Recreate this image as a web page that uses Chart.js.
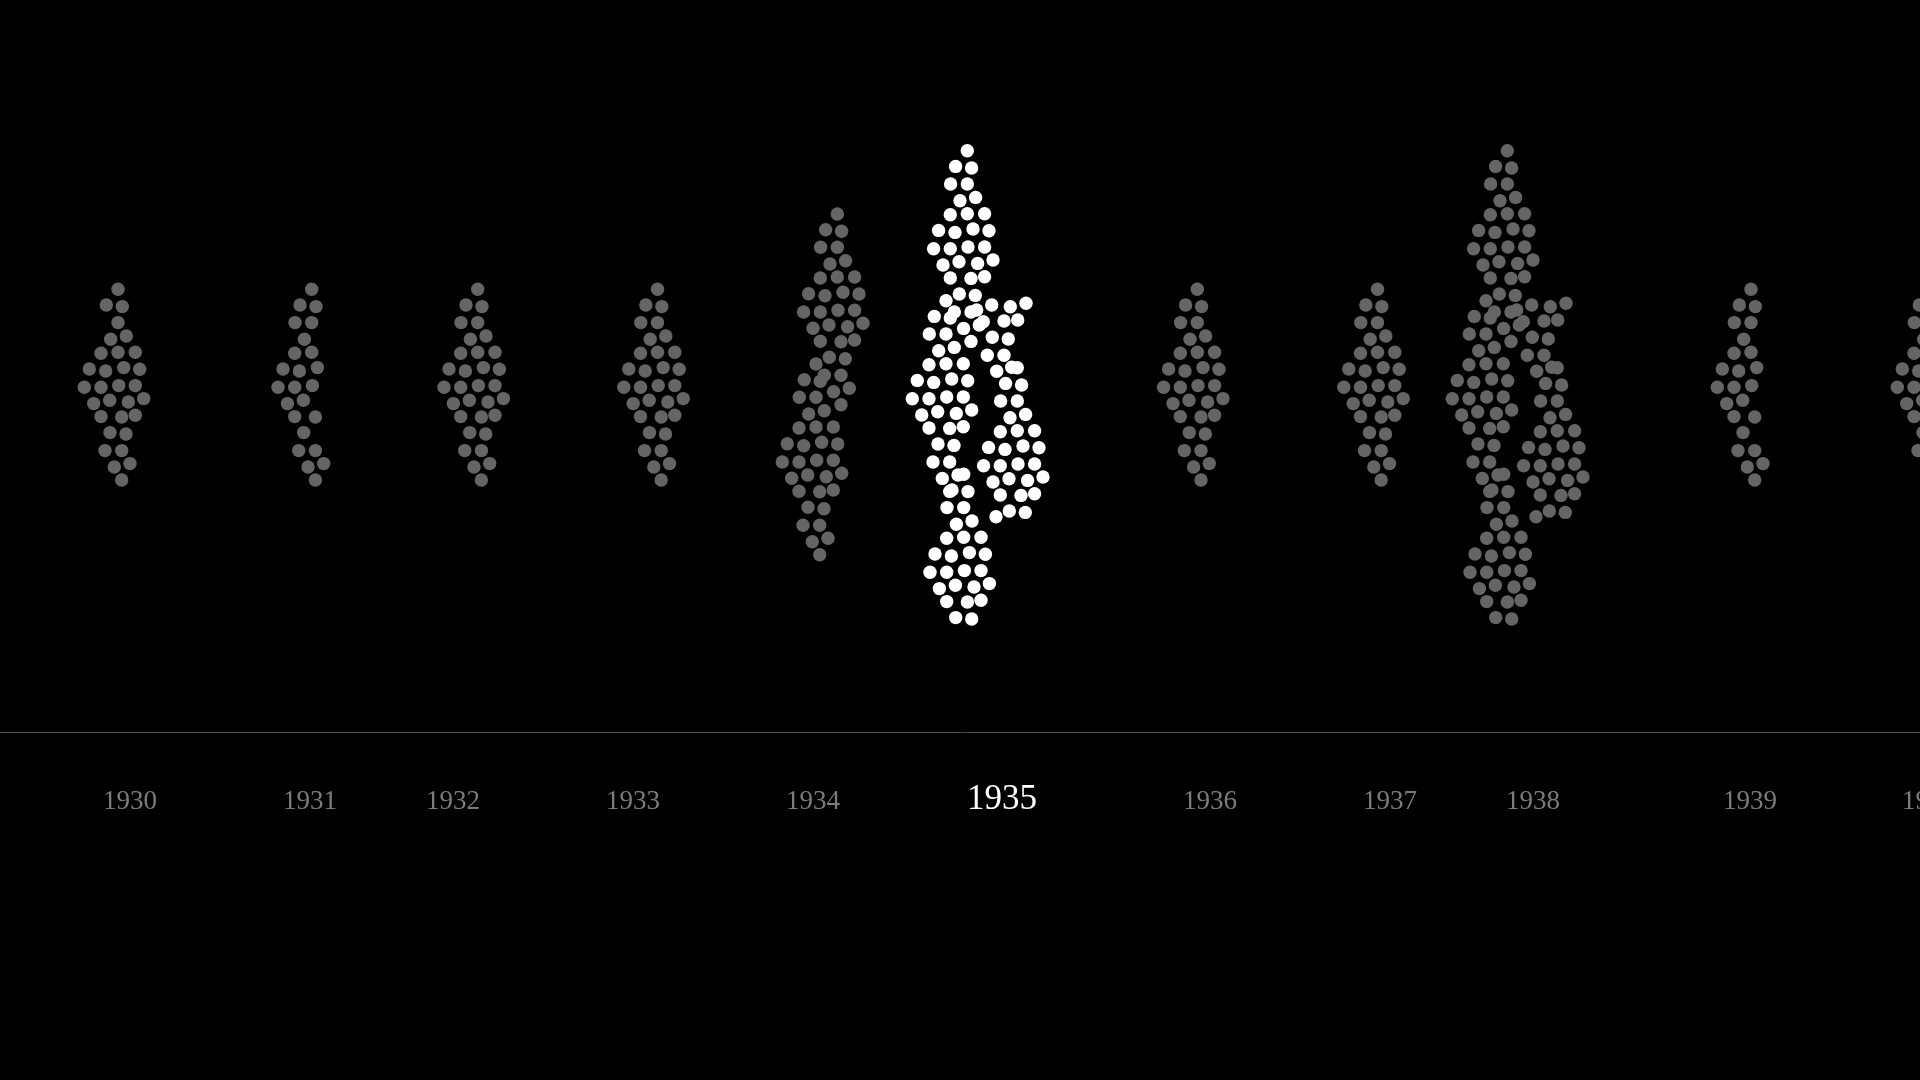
<!DOCTYPE html>
<html>
<head>
<meta charset="utf-8">
<script src="https://cdn.jsdelivr.net/npm/chart.js@4/dist/chart.umd.min.js"></script>
<style>
html,body{margin:0;padding:0;background:#000;overflow:hidden}
#wrap{width:1920px;height:1080px;position:relative}
</style>
</head>
<body>
<div id="wrap"><canvas id="c" width="1920" height="1080"></canvas></div>
<script>
// ---- data ----
const YEARS = ['1930','1931','1932','1933','1934','1935','1936','1937','1938','1939','1940'];
const LABEL_X = [130, 310, 453, 633, 813, 1002, 1210, 1390, 1533, 1750, 1929];
const HIGHLIGHT_YEAR = '1935';

// one swarm "diamond": offsets of each dot from its top dot
const SHAPE_DX = [0,-11.7,4.3,-16.7,0,-7.3,8.3,-17,0,17.3,-28.7,-12.3,5.7,21.7,-33.7,-17,0.7,17.3,-24.3,-8.3,10.3,25.7,-17,3.7,17.3,-8,8,-13,3.7,-3.7,12,3.7];
const SHAPE_DY = [0,15.7,17.3,33.3,33.3,50,46.7,64,63,63,79.7,81.7,78.3,80,98,98,96.3,96.3,114.3,111,112.7,109.3,127.3,127.7,126,143.3,144.7,161.3,161.3,177.7,174.3,190.7];

const DIAMOND_YEAR = ['1930','1931','1932','1933','1934','1934','1935','1935','1935','1935','1936','1937','1938','1938','1938','1938','1939','1940'];
const DIAMOND_X = [118,311.7,477.7,657.5,837.3,816,967.3,946,1017.3,963.7,1197.3,1377.5,1507.3,1486,1557.3,1503.7,1751,1931];
const DIAMOND_Y = [289.3,289.3,289.3,289.3,214,364,150.7,300.7,367.7,474.3,289.3,289.3,150.7,300.7,367.7,474.3,289.3,289.3];
const DIAMOND_DROP = [
  [4],
  [7,10,14,18,21,22,25,27],
  [],[],[],[],[],[],
  [28,29,30,31,32],
  [28,29,30,31,32],
  [],[],[],[],
  [28,29,30,31,32],
  [28,29,30,31,32],
  [7,10,14,18,21,22,25,27],
  []
];

// loose dots that belong to no full diamond
const EXTRA_YEAR = ['1935','1935','1935','1935','1935','1935','1935','1935','1935','1935','1935','1935','1935','1935',
                    '1938','1938','1938','1938','1938','1938','1938','1938','1938','1938','1938','1938','1938','1938'];
const EXTRA_X = [991.7,1010.3,1026,1004,1017.7,992.3,1008.3,987.3,1004,996.7,1011.7,976.7,983.3,996,
                 1531.7,1550.3,1566,1544,1557.7,1532.3,1548.3,1527.3,1544,1536.7,1551.7,1516.7,1523.3,1536];
const EXTRA_Y = [305,306.7,303.3,321,320,337.3,339,355.3,355.3,371.3,367.3,310,321.7,516.7,
                 305,306.7,303.3,321,320,337.3,339,355.3,355.3,371.3,367.3,310,321.7,516.7];

// ---- styles ----
const DOT_GRAY = '#656565';
const DOT_WHITE = '#ffffff';
const LABEL_GRAY = '#7c7c7c';
const LABEL_FONT = '"Liberation Serif", "DejaVu Serif", serif';

// ---- build datasets ----
const byYear = {};
YEARS.forEach(y => byYear[y] = []);
DIAMOND_YEAR.forEach((yr, d) => {
  for (let i = 0; i < SHAPE_DX.length; i++) {
    if (DIAMOND_DROP[d].includes(i + 1)) continue;
    byYear[yr].push({x: DIAMOND_X[d] + SHAPE_DX[i], y: DIAMOND_Y[d] + SHAPE_DY[i]});
  }
});
EXTRA_YEAR.forEach((yr, i) => byYear[yr].push({x: EXTRA_X[i], y: EXTRA_Y[i]}));

const datasets = YEARS.map(yr => ({
  label: yr,
  data: byYear[yr],
  pointRadius: 6.7,
  pointBorderWidth: 0,
  pointBackgroundColor: yr === HIGHLIGHT_YEAR ? DOT_WHITE : DOT_GRAY,
  pointBorderColor: 'rgba(0,0,0,0)',
  showLine: false,
  clip: false,
  order: yr === HIGHLIGHT_YEAR ? 0 : 1
}));

const yearLabels = {
  id: 'yearLabels',
  afterDraw(chart) {
    const xs = chart.scales.x;
    const ctx = chart.ctx;
    ctx.save();
    ctx.textAlign = 'center';
    ctx.textBaseline = 'alphabetic';
    YEARS.forEach((yr, i) => {
      const hi = yr === HIGHLIGHT_YEAR;
      ctx.font = (hi ? '35px ' : '27px ') + LABEL_FONT;
      ctx.fillStyle = hi ? '#ffffff' : LABEL_GRAY;
      ctx.fillText(yr, xs.getPixelForValue(LABEL_X[i]), chart.chartArea.bottom + 77);
    });
    ctx.restore();
  }
};

new Chart(document.getElementById('c'), {
  type: 'scatter',
  data: {datasets},
  options: {
    responsive: false,
    animation: false,
    events: [],
    layout: {padding: 0, autoPadding: false},
    plugins: {legend: {display: false}, tooltip: {enabled: false}},
    scales: {
      x: {
        type: 'linear', min: 0, max: 1920, position: 'bottom',
        grid: {display: false, drawTicks: false},
        border: {display: true, color: '#4d4d4d', width: 1},
        ticks: {display: false},
        afterFit(s) { s.height = 348; s.paddingLeft = 0; s.paddingRight = 0; }
      },
      y: {type: 'linear', min: 0, max: 732, reverse: true, display: false}
    }
  },
  plugins: [yearLabels]
});
</script>
</body>
</html>
